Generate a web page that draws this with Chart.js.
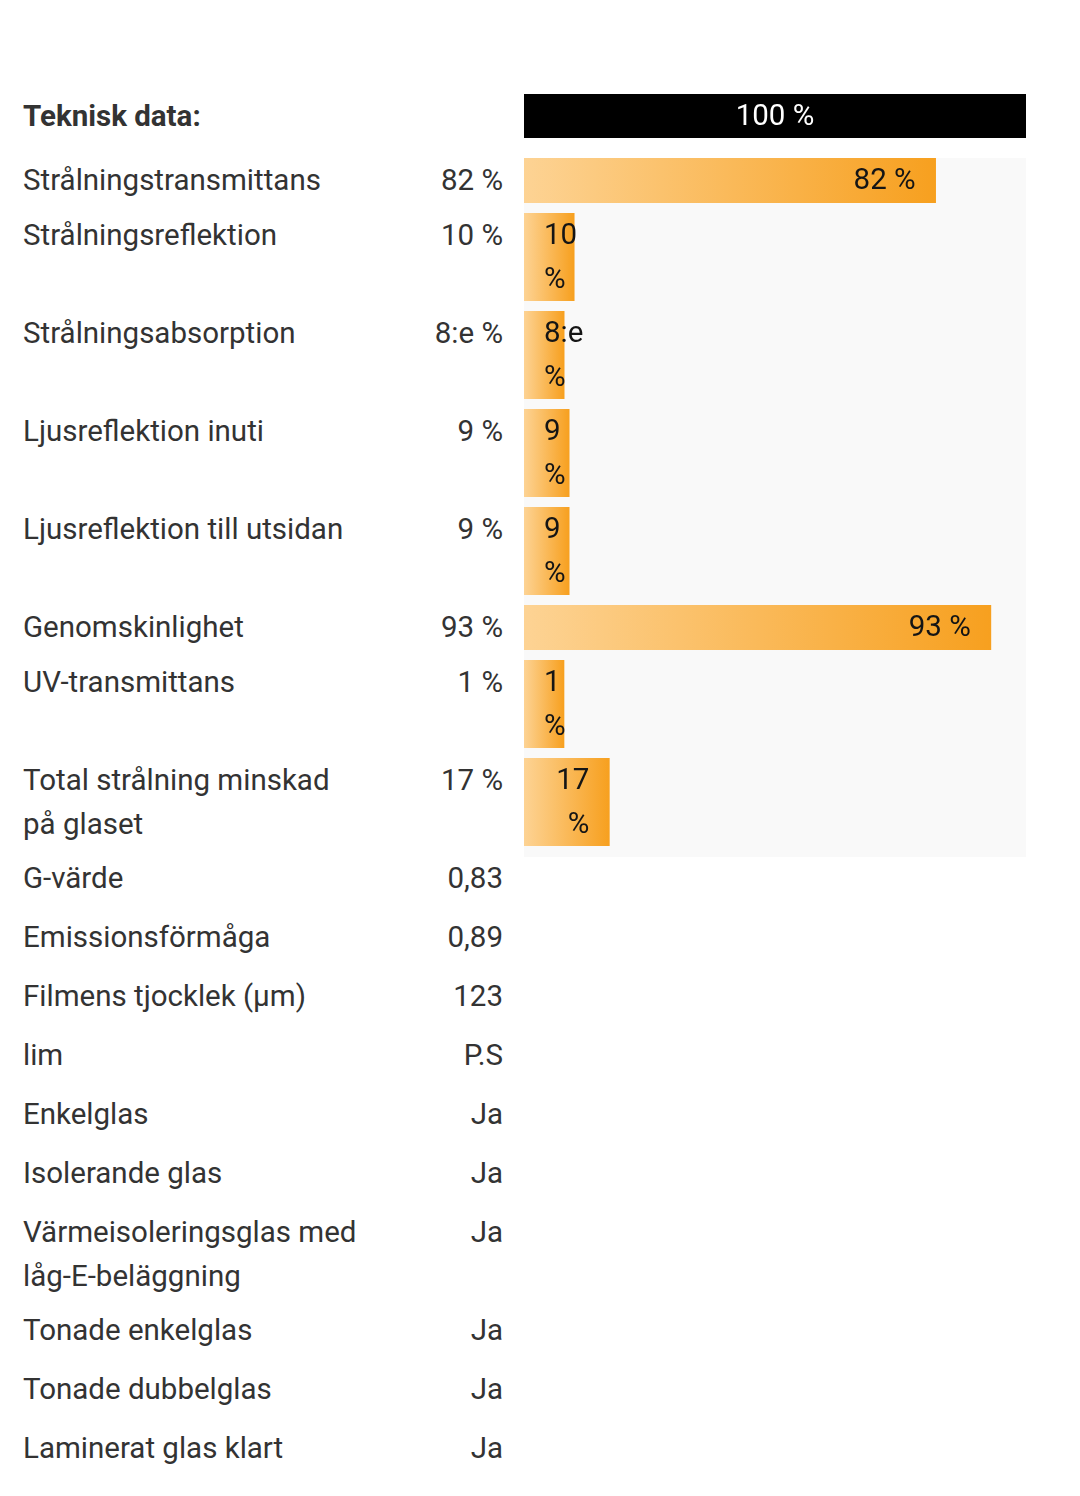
<!DOCTYPE html>
<html>
<head>
<meta charset="utf-8">
<script src="https://cdn.jsdelivr.net/npm/chart.js@4.4.0/dist/chart.umd.min.js"></script>
<style>
  body { margin: 0; background: #fff; font-family: Roboto, sans-serif; color: #333; }
  #table {
    position: absolute; left: 23px; top: 89px;
    display: grid; grid-template-columns: 340px 140px 21px 502px;
    font-size: 29.5px; line-height: 44px;
  }
  .cell { padding: 5px 0; }
  .val { text-align: right; }
  .info { min-height: 49px; }
  .head { font-weight: bold; padding-bottom: 15px; }
  .grey { background: #f9f9f9; margin-top: 5px; margin-bottom: -6px; }
  canvas { display: block; }
</style>
</head>
<body>
<div id="table"></div>
<script>
const headerLabel = 'Teknisk data:';
const headerValue = 100;
const headerText = '100 %';

const barLabels = ['Strålningstransmittans', 'Strålningsreflektion', 'Strålningsabsorption',
  'Ljusreflektion inuti', 'Ljusreflektion till utsidan', 'Genomskinlighet', 'UV-transmittans',
  'Total strålning minskad på glaset'];
const barValues = [82, 10, 8, 9, 9, 93, 1, 17];
const barTexts = ['82 %', '10 %', '8:e %', '9 %', '9 %', '93 %', '1 %', '17 %'];

const infoLabels = ['G-värde', 'Emissionsförmåga', 'Filmens tjocklek (µm)', 'lim', 'Enkelglas',
  'Isolerande glas', 'Värmeisoleringsglas med låg-E-beläggning', 'Tonade enkelglas',
  'Tonade dubbelglas', 'Laminerat glas klart'];
const infoValues = ['0,83', '0,89', '123', 'P.S', 'Ja', 'Ja', 'Ja', 'Ja', 'Ja', 'Ja'];

const BAR_W = 502;
const LINE = 44;
const PAD = 20;
const MIN_BAR = 2 * PAD;
const FONT = '29.5px Roboto';

const measure = document.createElement('canvas').getContext('2d');
measure.font = FONT;

// wrap text the way a padded html cell would
function wrapText(ctx, text, avail) {
  const words = text.split(' ');
  const lines = [];
  let cur = '';
  words.forEach(w => {
    const test = cur ? cur + ' ' + w : w;
    if (cur && ctx.measureText(test).width > avail) {
      lines.push(cur);
      cur = w;
    } else {
      cur = test;
    }
  });
  if (cur) lines.push(cur);
  return lines;
}

const barTextPlugin = {
  id: 'barText',
  afterDatasetsDraw(chart) {
    const opts = chart.options.plugins.barText;
    const ctx = chart.ctx;
    const bar = chart.getDatasetMeta(0).data[0];
    const left = Math.min(bar.base, bar.x);
    const right = Math.max(bar.base, bar.x);
    const top = bar.y - bar.height / 2;
    const avail = right - left - 2 * PAD;
    ctx.save();
    ctx.font = FONT;
    ctx.fillStyle = opts.color;
    ctx.textBaseline = 'middle';
    wrapText(ctx, opts.text, avail).forEach((line, i) => {
      const w = ctx.measureText(line).width;
      const y = top + LINE / 2 + 1.5 + i * LINE;
      if (opts.align === 'center') {
        ctx.textAlign = 'center';
        ctx.fillText(line, (left + right) / 2, y);
      } else if (w <= avail) {
        ctx.textAlign = 'right';
        ctx.fillText(line, right - PAD, y);
      } else {
        ctx.textAlign = 'left';
        ctx.fillText(line, left + PAD, y);
      }
    });
    ctx.restore();
  }
};

function makeBar(parent, value, text, height, fill, color, align) {
  const canvas = document.createElement('canvas');
  canvas.width = BAR_W;
  canvas.height = height;
  canvas.style.width = BAR_W + 'px';
  canvas.style.height = height + 'px';
  parent.appendChild(canvas);
  new Chart(canvas, {
    type: 'bar',
    data: {
      labels: [''],
      datasets: [{
        data: [value],
        backgroundColor: fill,
        borderWidth: 0,
        barPercentage: 1,
        categoryPercentage: 1,
        minBarLength: MIN_BAR
      }]
    },
    options: {
      indexAxis: 'y',
      responsive: false,
      animation: false,
      devicePixelRatio: window.devicePixelRatio,
      layout: { padding: 0 },
      scales: {
        x: { min: 0, max: 100, display: false },
        y: { display: false }
      },
      plugins: {
        legend: { display: false },
        tooltip: { enabled: false },
        barText: { text: text, color: color, align: align }
      }
    },
    plugins: [barTextPlugin]
  });
}

function orangeFill(c) {
  const chart = c.chart;
  if (!chart.chartArea) return '#f8a52a';
  const x0 = chart.scales.x.getPixelForValue(0);
  const x1 = Math.max(x0 + MIN_BAR, chart.scales.x.getPixelForValue(c.raw));
  const g = chart.ctx.createLinearGradient(x0, 0, x1, 0);
  g.addColorStop(0, '#fdd394');
  g.addColorStop(1, '#f7a01f');
  return g;
}

const table = document.getElementById('table');
let row = 1;

function addCell(cls, text, col) {
  const d = document.createElement('div');
  d.className = 'cell ' + cls;
  d.textContent = text;
  d.style.gridRow = row;
  d.style.gridColumn = col;
  table.appendChild(d);
  return d;
}

// header
addCell('head', headerLabel, 1);
addCell('head', '', 2);
const headBar = addCell('head', '', 4);
makeBar(headBar, headerValue, headerText, LINE, '#000', '#fff', 'center');
row++;

// grey track behind the bar rows
const grey = document.createElement('div');
grey.className = 'grey';
grey.style.gridRow = row + ' / span ' + barLabels.length;
grey.style.gridColumn = 4;
table.appendChild(grey);

barLabels.forEach((label, i) => {
  addCell('', label, 1);
  addCell('val', barTexts[i], 2);
  const cell = addCell('', '', 4);
  const barW = Math.max(MIN_BAR, BAR_W * barValues[i] / 100);
  const lines = wrapText(measure, barTexts[i], barW - 2 * PAD).length;
  makeBar(cell, barValues[i], barTexts[i], Math.max(45, lines * LINE), orangeFill, '#151515', 'right');
  row++;
});

infoLabels.forEach((label, i) => {
  addCell('info', label, 1);
  addCell('info val', infoValues[i], 2);
  row++;
});
</script>
</body>
</html>
